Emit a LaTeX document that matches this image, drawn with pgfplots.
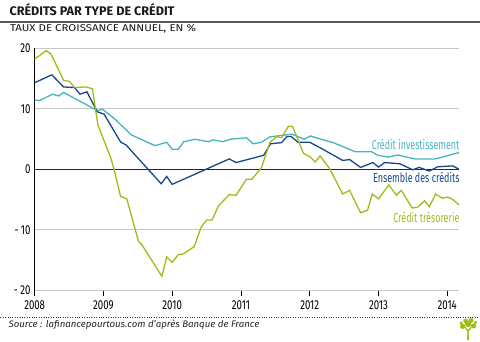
\documentclass[border=0pt]{standalone}
\usepackage{pgfplots}
\pgfplotsset{compat=1.18}
\usepackage{fontspec}
\setmainfont{Fira Sans}
\newfontfamily\cond{Fira Sans}[FakeStretch=0.74]
\newfontfamily\condl{Fira Sans}[FakeStretch=0.69]
\newfontfamily\condt{Fira Sans}[FakeStretch=1.01]
\newfontfamily\subt{Fira Sans}[FakeStretch=1.16]
\newfontfamily\condit{Fira Sans Italic}[FakeStretch=1.02]
\definecolor{cgreen}{RGB}{155,190,25}
\definecolor{cblue}{RGB}{25,70,140}
\definecolor{cteal}{RGB}{70,180,190}
\definecolor{cgrid}{RGB}{200,200,200}
\begin{document}
\begin{tikzpicture}
\begin{scope}[x=1pt,y=1pt]
\path[use as bounding box] (0,0) rectangle (480,342);
\node[anchor=base west, font=\condt\bfseries\fontsize{12.5}{12.5}\selectfont, inner sep=0, text=black!90] at (9,326.3) {CRÉDITS PAR TYPE DE CRÉDIT};
\draw[line width=1.4pt, black!65] (0,320) -- (480,320);
\node[anchor=base west, font=\subt\fontsize{9.9}{9.9}\selectfont, inner sep=0, text=black!90] at (9.5,310.3) {TAUX DE CROISSANCE ANNUEL, EN \%};
\end{scope}
\begin{axis}[at={(34.3pt,51.3pt)}, anchor=south west, scale only axis,
  width=425pt, height=242.4pt,
  xmin=2008, xmax=2014.17, ymin=-20, ymax=20, clip=false,
  axis x line*=bottom, axis y line*=left,
  x axis line style={cgrid, line width=0.8pt},
  y axis line style={black, line width=0.8pt},
  xtick={2008,2009,2010,2011,2012,2013,2014},
  xticklabels={2008,2009,2010,2011,2012,2013,2014},
  ytick={-20,-10,0,10,20},
  yticklabels={- 20,- 10,0,10,20},
  tick align=outside, major tick length=6pt,
  xtick style={black, line width=0.8pt},
  ytick style={draw=none},
  ymajorgrids, grid style={cgrid, line width=0.8pt},
  xticklabel style={font=\cond\fontsize{13}{13}\selectfont, inner sep=0pt, anchor=north, yshift=-4pt},
  yticklabel style={font=\cond\fontsize{13}{13}\selectfont, inner sep=0pt, anchor=east, xshift=2pt},
  /pgf/number format/assume math mode=true,
]
\draw[black!85, line width=0.8pt] (axis cs:2008,0) -- (axis cs:2014.17,0);
\addplot[cteal, line width=1.3pt] coordinates {
(2008.00,11.4) (2008.08,11.4) (2008.26,12.4) (2008.35,12.1) (2008.42,12.7)
(2008.91,9.7) (2008.99,9.9) (2009.17,8.25) (2009.41,5.65) (2009.75,3.9)
(2009.92,4.45) (2010.00,3.3) (2010.09,3.3) (2010.17,4.55) (2010.33,4.95)
(2010.53,4.55) (2010.59,4.85) (2010.74,4.55) (2010.84,4.95) (2011.08,5.2)
(2011.18,4.2) (2011.30,4.45) (2011.42,5.35) (2011.57,5.55) (2011.74,5.8)
(2011.83,5.4) (2011.92,4.95) (2012.01,5.5) (2012.15,5.0) (2012.34,4.4)
(2012.66,2.9) (2012.90,2.9) (2012.99,2.3) (2013.14,2.0) (2013.28,2.35)
(2013.53,1.7) (2013.82,1.7) (2013.96,2.1) (2014.17,2.75)
};
\addplot[cblue, line width=1.3pt] coordinates {
(2008.00,14.3) (2008.25,15.6) (2008.42,13.6) (2008.58,13.5) (2008.66,12.4)
(2008.76,12.8) (2008.91,9.5) (2009.01,9.1) (2009.25,4.5) (2009.33,4.0)
(2009.84,-2.4) (2009.92,-1.2) (2010.00,-2.5) (2010.83,1.7) (2010.93,1.1)
(2011.33,2.3) (2011.43,4.2) (2011.59,4.4) (2011.67,5.4) (2011.73,5.4)
(2011.83,4.45) (2012.00,4.45) (2012.16,3.5) (2012.48,1.45) (2012.58,1.6)
(2012.74,0.3) (2012.92,1.1) (2013.00,0.35) (2013.09,1.1) (2013.31,0.9)
(2013.50,-0.1) (2013.59,0.3) (2013.74,-0.3) (2013.86,0.4) (2014.08,0.55)
(2014.17,0.0)
};
\addplot[cgreen, line width=1.3pt] coordinates {
(2008.00,18.2) (2008.17,19.6) (2008.24,19.0) (2008.42,14.7) (2008.51,14.5)
(2008.58,13.5) (2008.75,13.6) (2008.84,13.3) (2008.92,7.3) (2009.10,2.1)
(2009.15,0.2) (2009.25,-4.5) (2009.34,-4.9) (2009.51,-11.9) (2009.56,-12.5)
(2009.85,-17.7) (2009.92,-14.5) (2010.00,-15.4) (2010.09,-14.1) (2010.16,-14.0)
(2010.32,-12.8) (2010.42,-9.6) (2010.50,-8.4) (2010.58,-8.4) (2010.67,-6.1)
(2010.83,-4.2) (2010.93,-4.3) (2011.08,-1.65) (2011.16,-1.65) (2011.30,0.3)
(2011.42,4.4) (2011.52,5.4) (2011.59,5.2) (2011.69,7.1) (2011.75,7.1)
(2011.91,2.6) (2012.00,2.1) (2012.08,1.2) (2012.15,2.2) (2012.29,0.1)
(2012.48,-4.1) (2012.58,-3.5) (2012.74,-7.2) (2012.84,-6.8) (2012.91,-4.1)
(2013.00,-4.9) (2013.15,-2.6) (2013.26,-4.3) (2013.33,-3.5) (2013.49,-6.4)
(2013.57,-6.3) (2013.67,-5.2) (2013.74,-6.2) (2013.83,-4.1) (2013.93,-4.8)
(2014.01,-4.6) (2014.08,-5.0) (2014.17,-5.9)
};
\end{axis}
\begin{scope}[x=1pt,y=1pt]
\node[anchor=base east, inner sep=0, text=cteal, font=\condl\fontsize{13}{13}\selectfont] at (460,192.7) {Crédit investissement};
\node[anchor=base east, inner sep=0, text=cblue, font=\condl\fontsize{13}{13}\selectfont] at (460,159.3) {Ensemble des crédits};
\node[anchor=base east, inner sep=0, text=cgreen, font=\condl\fontsize{13}{13}\selectfont] at (460,119.3) {Crédit trésorerie};
\draw[black!80, line width=0.8pt, dash pattern=on 0.8pt off 1.6pt] (0,24.3) -- (480,24.3);
\node[anchor=base west, inner sep=0, font=\condit\fontsize{9.5}{9.5}\selectfont, text=black!85] at (8,14) {Source : lafinancepourtous.com d’après Banque de France};
\fill[cgreen] (467.5,1.5) -- (469.5,1.5) -- (469.2,10) -- (472,14) -- (470.8,14.6) -- (468.5,11.5) -- (466,14.5) -- (465,13.8) -- (467.8,10) -- cycle;
\fill[cgreen] (463,15) circle (2.6) (468.5,17.5) circle (3.2) (474,15.5) circle (2.6) (466,20.5) circle (2.4) (471.5,21) circle (2.4) (461.5,18.5) circle (1.8) (476,19) circle (1.8);
\end{scope}
\end{tikzpicture}
\end{document}
